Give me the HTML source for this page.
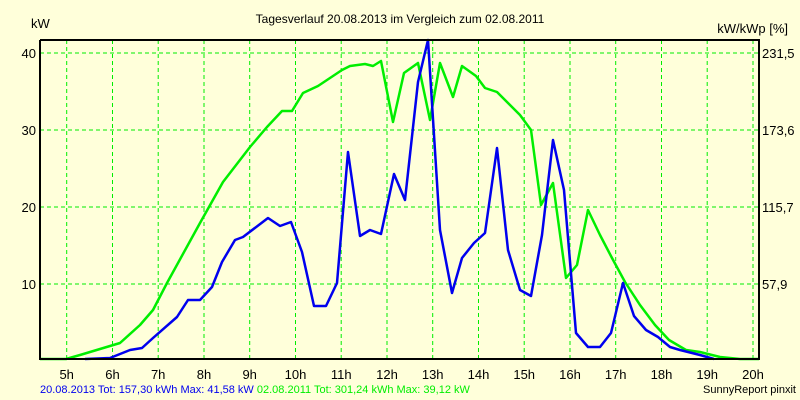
<!DOCTYPE html>
<html><head><meta charset="utf-8"><style>
html,body{margin:0;padding:0;background:#FFFFDA;}
svg{display:block;font-family:"Liberation Sans",sans-serif;}
</style></head><body>
<svg width="800" height="400" viewBox="0 0 800 400">
<rect x="0" y="0" width="800" height="400" fill="#FFFFDA"/>
<text x="400" y="23" font-size="12" text-anchor="middle" fill="#000">Tagesverlauf 20.08.2013 im Vergleich zum 02.08.2011</text>
<text x="31" y="28" font-size="13" fill="#000">kW</text>
<text x="788" y="33" font-size="13" text-anchor="end" fill="#000">kW/kWp [%]</text>
<g stroke="#00ee00" stroke-width="1" stroke-dasharray="4,3" fill="none">
<line x1="66.7" y1="40" x2="66.7" y2="359"/><line x1="112.5" y1="40" x2="112.5" y2="359"/>
<line x1="158.2" y1="40" x2="158.2" y2="359"/><line x1="204" y1="40" x2="204" y2="359"/>
<line x1="249.7" y1="40" x2="249.7" y2="359"/><line x1="295.5" y1="40" x2="295.5" y2="359"/>
<line x1="341.2" y1="40" x2="341.2" y2="359"/><line x1="387" y1="40" x2="387" y2="359"/>
<line x1="432.7" y1="40" x2="432.7" y2="359"/><line x1="478.5" y1="40" x2="478.5" y2="359"/>
<line x1="524.2" y1="40" x2="524.2" y2="359"/><line x1="570" y1="40" x2="570" y2="359"/>
<line x1="615.7" y1="40" x2="615.7" y2="359"/><line x1="661.5" y1="40" x2="661.5" y2="359"/>
<line x1="707.2" y1="40" x2="707.2" y2="359"/><line x1="753" y1="40" x2="753" y2="359"/>
<line x1="40" y1="53" x2="759" y2="53"/><line x1="40" y1="130" x2="759" y2="130"/>
<line x1="40" y1="207" x2="759" y2="207"/><line x1="40" y1="284" x2="759" y2="284"/>
</g>
<polyline fill="none" stroke="#00ee00" stroke-width="2.5" stroke-linejoin="round" points="40,359 66,359 80,355 100,349 120,343 140,325 153,310 167,283 200,223 223,182 250,147 267,127 282,111 292,111 303,93 318,86 330,78 342,70 350,66 365,64 373,66 381,61 393,122 404,73 418,63 430,120 440,63 453,97 462,66 476,76 485,88 497,92 510,105 520,115 531,130 541,205 553,183 566,278 577,265 588,210 600,235 612,258 625,282 640,305 655,325 669,340 686,350 700,352 720,357 740,359 759,359"/>
<polyline fill="none" stroke="#0000ee" stroke-width="2.5" stroke-linejoin="round" points="85,359 110,358 130,350 142,348 153,338 177,317 188,300 200,300 212,287 222,262 235,240 243,237 268,218 280,226 291,222 302,252 314,306 326,306 337,283 348,152 360,236 370,230 381,234 394,174 405,200 418,82 428,40 440,230 452,293 462,258 474,243 485,233 497,148 508,250 520,290 531,296 542,235 553,140 564,190 576,333 588,347 600,347 611,333 623,283 634,316 646,330 658,337 670,347 680,350 700,355 714,359"/>
<polyline fill="none" stroke="#000" stroke-width="2" points="40,40 40,359 759,359 759,40 40,40"/>
<g font-size="13" fill="#000" text-anchor="end">
<text x="36" y="58">40</text><text x="36" y="135">30</text><text x="36" y="212">20</text><text x="36" y="289">10</text>
</g>
<g font-size="13" fill="#000">
<text x="762" y="58">231,5</text><text x="762" y="135">173,6</text><text x="762" y="212">115,7</text><text x="762" y="289">57,9</text>
</g>
<g font-size="13" fill="#000" text-anchor="middle">
<text x="66.7" y="379">5h</text><text x="112.5" y="379">6h</text><text x="158.2" y="379">7h</text><text x="204" y="379">8h</text>
<text x="249.7" y="379">9h</text><text x="295.5" y="379">10h</text><text x="341.2" y="379">11h</text><text x="387" y="379">12h</text>
<text x="432.7" y="379">13h</text><text x="478.5" y="379">14h</text><text x="524.2" y="379">15h</text><text x="570" y="379">16h</text>
<text x="615.7" y="379">17h</text><text x="661.5" y="379">18h</text><text x="707.2" y="379">19h</text><text x="753" y="379">20h</text>
</g>
<text x="40" y="393" font-size="11" fill="#0000ee">20.08.2013 Tot: 157,30 kWh Max: 41,58 kW <tspan fill="#00ee00">02.08.2011 Tot: 301,24 kWh Max: 39,12 kW</tspan></text>
<text x="796" y="393" font-size="11" fill="#000" text-anchor="end">SunnyReport pinxit</text>
</svg>
</body></html>
